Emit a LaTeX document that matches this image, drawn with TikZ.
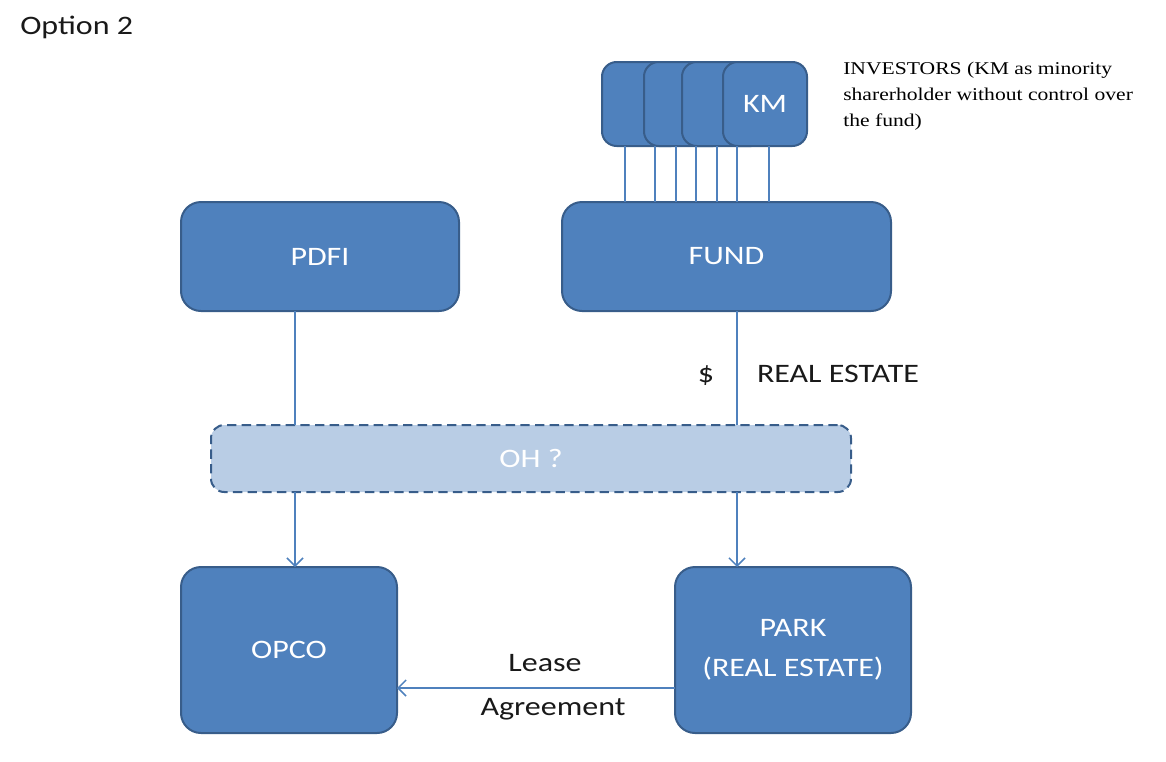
\documentclass[tikz,border=0pt]{standalone}
\usepackage{fontspec}
\setmainfont{Carlito}[FakeStretch=1.2]
\newfontfamily\tnr{Liberation Serif}[FakeStretch=1.2]
\usetikzlibrary{arrows.meta}
\definecolor{boxblue}{HTML}{4F81BD}
\definecolor{edgeblue}{HTML}{385D8A}
\definecolor{paleblue}{HTML}{B9CDE5}

\begin{document}
\begin{tikzpicture}[x=0.75pt,y=-0.75pt,>={Straight Barb[length=6pt,width=12pt]},
                    box/.style={draw=edgeblue,fill=boxblue,line width=1.5pt,rounded corners=15pt,
                                text=white,font=\fontsize{20}{30}\selectfont,align=center,
                                inner sep=0pt,outer sep=0pt},
                    invbox/.style={box,rounded corners=11pt,minimum width=63pt,minimum height=63pt},
                    dashbox/.style={box,fill=paleblue,dashed,dash pattern=on 7pt off 4pt,rounded corners=10pt},
                    link/.style={draw=boxblue,line width=1.1pt},
                    lbl/.style={text=black!90,font=\fontsize{20}{24}\selectfont,inner sep=0pt}]

  \useasboundingbox (0,0) rectangle (1166,761);

  \node[lbl,anchor=west] (title) at (20,27) {Option 2};

  	% investors
  	\node[invbox] (I1) at (644,104) {};
  	\node[invbox] (I2) at (686,104) {};
  	\node[invbox] (I3) at (724,104) {};
  	\node[invbox] (I4) at (765,104) {KM};
  	\node[anchor=north west,align=left,inner sep=0pt,font=\tnr\fontsize{13.5}{19.5}\selectfont]
  	      (inv) at (843,62) {INVESTORS (KM as minority\\sharerholder without control over\\the fund)};

  	\node[box,minimum width=208.5pt,minimum height=81.75pt] (PDFI) at (320,256.5) {PDFI};
  	\node[box,minimum width=246.75pt,minimum height=81.75pt] (FUND) at (726.5,256.5) {FUND};
  	\node[dashbox,minimum width=480pt,minimum height=50.25pt] (OH) at (531,458.5) {OH ?};
  	\node[box,minimum width=162pt,minimum height=124.5pt] (OPCO) at (289,650) {OPCO};
  	\node[box,minimum width=177pt,minimum height=124.5pt] (PARK) at (793,650) {PARK\\(REAL ESTATE)};

  	\foreach \x in {625,655,676,696,717,737,769}
  	  \path[link] (\x,0 |- I1.south) edge (\x,0 |- FUND.north);

  	\path[link] (295,0 |- PDFI.south) edge (295,0 |- OH.north);
  	\path[link] (295,0 |- OH.south) edge[->] (295,0 |- OPCO.north);
  	\path[link] (737,0 |- FUND.south) edge (737,0 |- OH.north);
  	\path[link] (737,0 |- OH.south) edge[->] (737,0 |- PARK.north);
  	\path[link] (PARK.west |- 0,688) edge[->] (OPCO.east |- 0,688);

  	\node[lbl] (dollar) at (706,376) {\$};
  	\node[lbl] (re) at (838,374) {REAL ESTATE};
  	\node[lbl] (lease) at (545,663) {Lease};
  	\node[lbl] (agr) at (553,709) {Agreement};

\end{tikzpicture}
\end{document}
